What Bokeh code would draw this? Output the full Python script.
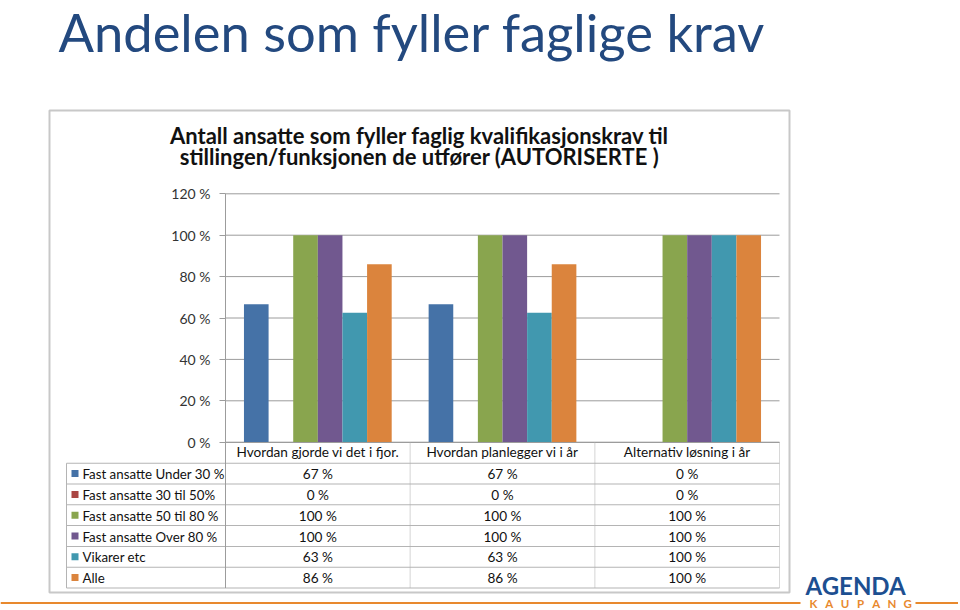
from bokeh.plotting import figure
from bokeh.models import (Range1d, Label, BoxAnnotation, FixedTicker,
                          CustomJSTickFormatter, ColumnDataSource)
from bokeh.embed import file_html
from bokeh.resources import INLINE

# ---------------- data ----------------
categories = ["Hvordan gjorde vi det i fjor.", "Hvordan planlegger vi i år", "Alternativ løsning i år"]
series_names = ["Fast ansatte Under 30 %", "Fast ansatte 30 til 50%", "Fast ansatte 50 til 80 %",
                "Fast ansatte Over 80 %", "Vikarer etc", "Alle"]
under_30 = [0.667, 0.667, 0.0]
from_30_to_50 = [0.0, 0.0, 0.0]
from_50_to_80 = [1.0, 1.0, 1.0]
over_80 = [1.0, 1.0, 1.0]
vikarer = [0.625, 0.625, 1.0]
alle = [0.86, 0.86, 1.0]
table_under_30 = ["67 %", "67 %", "0 %"]
table_30_to_50 = ["0 %", "0 %", "0 %"]
table_50_to_80 = ["100 %", "100 %", "100 %"]
table_over_80 = ["100 %", "100 %", "100 %"]
table_vikarer = ["63 %", "63 %", "100 %"]
table_alle = ["86 %", "86 %", "100 %"]
y_ticks = [0.0, 0.2, 0.4, 0.6, 0.8, 1.0, 1.2]
y_tick_labels = ["0 %", "20 %", "40 %", "60 %", "80 %", "100 %", "120 %"]

page_title = "Andelen som fyller faglige krav"
chart_title = ["Antall ansatte som fyller faglig kvalifikasjonskrav til",
               "stillingen/funksjonen de utfører (AUTORISERTE )"]

colors = ["#4572A7", "#AA4643", "#89A54E", "#71588F", "#4198AF", "#DB843D"]

# ---------------- layout (canvas pixels, origin top-left) ----------------
W, H = 958, 608
AX_L, AX_R = 225, 779          # plot area left / right
Y0, Y120 = 441.7, 193.3        # pixel rows of 0 % and 120 %
Y_MAX = 1.2
N_CAT = len(categories)
px_x = (AX_R - AX_L) / N_CAT
px_y = (Y0 - Y120) / Y_MAX
GRID = "#9c9c9c"
TLINE = "#b4b4b4"
FONT = "Lato"
TFS = "13.6px"

p = figure(width=W, height=H,
           x_range=Range1d(-AX_L / px_x, N_CAT + (W - AX_R) / px_x),
           y_range=Range1d(-(H - Y0) / px_y, Y_MAX + Y120 / px_y),
           output_backend="svg", toolbar_location=None, tools="",
           min_border=0, min_border_left=0, min_border_right=0,
           min_border_top=0, min_border_bottom=0)
p.title.visible = False
p.outline_line_color = None
p.background_fill_color = "white"
p.border_fill_color = "white"
p.xgrid.visible = False
p.ygrid.visible = False

# y axis (pinned at x = 0, limited to 0..120 %)
ya = p.yaxis[0]
ya.fixed_location = 0
ya.bounds = (0, Y_MAX)
ya.ticker = FixedTicker(ticks=y_ticks)
ya.formatter = CustomJSTickFormatter(args=dict(yt=y_ticks, yl=y_tick_labels), code="""
    for (let i = 0; i < yt.length; i++) { if (Math.abs(yt[i] - tick) < 1e-6) return yl[i]; }
    return "";
""")
ya.axis_line_color = GRID
ya.major_tick_line_color = GRID
ya.major_tick_out = 6
ya.major_tick_in = 0
ya.minor_tick_line_color = None
ya.major_label_standoff = 9
ya.major_label_text_font = FONT
ya.major_label_text_font_size = "14px"
ya.major_label_text_color = "#333333"

# x axis (pinned at y = 0) = header row of the table
xa = p.xaxis[0]
xa.fixed_location = 0
xa.bounds = (0, N_CAT)
xa.ticker = FixedTicker(ticks=[j + 0.5 for j in range(N_CAT)])
xa.formatter = CustomJSTickFormatter(args=dict(cats=categories),
                                     code="return cats[Math.floor(tick)];")
xa.axis_line_color = GRID
xa.major_tick_line_color = None
xa.minor_tick_line_color = None
xa.major_tick_out = 0
xa.major_tick_in = 0
xa.major_label_standoff = 2
xa.major_label_text_font = FONT
xa.major_label_text_font_size = TFS
xa.major_label_text_color = "#111111"

# horizontal grid lines across the plot area
p.segment(x0=[0] * len(y_ticks), x1=[N_CAT] * len(y_ticks), y0=y_ticks, y1=y_ticks,
          line_color=GRID, line_width=1)

# bars
series = [under_30, from_30_to_50, from_50_to_80, over_80, vikarer, alle]
n = len(series)
bar_w = 0.8 / n
for i, (vals, col) in enumerate(zip(series, colors)):
    xs = [j + 0.5 + (i - (n - 1) / 2) * bar_w for j in range(N_CAT)]
    src = ColumnDataSource(dict(x=xs, top=vals))
    p.vbar(x="x", top="top", bottom=0, width=bar_w, source=src,
           fill_color=col, line_color=None)


# ---------------- helpers for annotations ----------------
def sy(cy):
    return H - cy


def label(text, cx, cy, size, color="#111111", align="left", baseline="middle",
          style="normal", xdata=None):
    if xdata is None:
        x, xu = cx, "screen"
    else:
        x, xu = xdata, "data"
    fs = size if isinstance(size, str) else f"{size}px"
    p.add_layout(Label(x=x, y=sy(cy), x_units=xu, y_units="screen", text=text,
                       text_font=FONT, text_font_size=fs, text_color=color,
                       text_align=align, text_baseline=baseline,
                       text_font_style=style))


def rect(x0, x1, y0, y1, fill=None, line=None, lw=1):
    p.add_layout(BoxAnnotation(left=x0, right=x1, top=sy(y0), bottom=sy(y1),
                               left_units="screen", right_units="screen",
                               top_units="screen", bottom_units="screen",
                               fill_color=fill if fill else "white",
                               fill_alpha=1 if fill else 0,
                               line_color=line if line else "white",
                               line_width=lw, line_alpha=1 if line else 0,
                               level="annotation"))


# outer chart box
rect(49, 789, 110, 592, fill=None, line="#c8c8c8", lw=2)

# titles (vertical positions = middle of the capitals)
label(page_title, 58, 31, 52.5, color="#23497f")
label(chart_title[0], 419, 135, 22, color="#111111", align="center", style="bold")
label(chart_title[1], 419, 155.5, 22, color="#111111", align="center", style="bold")

# data table
ROW0 = 462.7
RH = 20.8
n_rows = len(series_names)
TB = ROW0 + n_rows * RH
TLEFT = 66
for k in range(n_rows + 1):
    y = ROW0 + k * RH
    rect(TLEFT, AX_R, y - 0.5, y + 0.5, fill=TLINE)
rect(TLEFT - 0.5, TLEFT + 0.5, ROW0, TB, fill=TLINE)
rect(AX_L - 0.5, AX_L + 0.5, Y0, TB, fill=GRID)
for k in range(1, N_CAT + 1):
    p.add_layout(BoxAnnotation(left=k, right=k, left_units="data", right_units="data",
                               top=sy(Y0), bottom=sy(TB),
                               top_units="screen", bottom_units="screen",
                               fill_alpha=0, line_color=TLINE, line_width=1,
                               level="annotation"))

table_rows = [table_under_30, table_30_to_50, table_50_to_80, table_over_80,
              table_vikarer, table_alle]
for r, (name, col, cells) in enumerate(zip(series_names, colors, table_rows)):
    cy = ROW0 + (r + 0.5) * RH
    rect(71, 78, cy - 3.5, cy + 3.5, fill=col)
    label(name, 82, cy + 0.5, "13.3px")
    for j, txt in enumerate(cells):
        label(txt, 0, cy + 0.5, TFS, align="center", xdata=j + 0.5)

# logo
ORANGE = "#E8892E"
rect(0, 800, 601.5, 603.5, fill=ORANGE)
rect(915, W, 601.5, 603.5, fill=ORANGE)
for k, ch in enumerate("KAUPANG"):
    label(ch, 813 + k * 15.7, 602.5, 11.5, color=ORANGE, align="center", style="bold")
label("AGENDA", 805, 584.5, 24, color="#1D4F91", style="bold")

open("out.html", "w").write(file_html(p, INLINE))
